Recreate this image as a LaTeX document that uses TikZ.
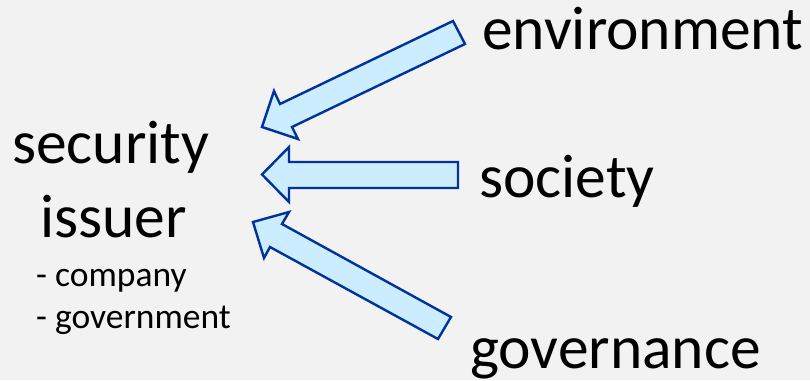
\documentclass[tikz,border=0pt]{standalone}
\usepackage{fontspec}
\setmainfont{Carlito}
\definecolor{bg}{HTML}{F2F2F2}
\definecolor{arrowfill}{HTML}{CCECFF}
\definecolor{arrowline}{HTML}{003399}
\begin{document}
\begin{tikzpicture}[x=1pt,y=-1pt,
  bigtext/.style={anchor=base west,inner sep=0pt,font=\fontsize{61.5}{74}\selectfont},
  smalltext/.style={anchor=base west,inner sep=0pt,font=\fontsize{35.5}{42}\selectfont},
  blockarrow/.style={draw=arrowline,fill=arrowfill,line width=2.4pt,line join=miter}]
\fill[bg] (0,0) rectangle (810,380);
\useasboundingbox (0,0) rectangle (810,380);
% arrows
\draw[blockarrow] (453,21) -- (465,44) -- (292,127) -- (298,139) -- (262,127) -- (274,91) -- (280,104) -- cycle;
\draw[blockarrow] (458,162) -- (458,188) -- (289,188) -- (289,202) -- (262,174.5) -- (289,147) -- (289,162) -- cycle;
\draw[blockarrow] (451,317) -- (438,339) -- (270,247) -- (264,258) -- (253,222) -- (289,212) -- (282,224) -- cycle;
% texts
\node[bigtext] (env) at (482,49.5) {environment};
\node[bigtext] (soc) at (479,197) {society};
\node[bigtext] (gov) at (470,368) {governance};
\node[bigtext] (sec) at (12,163.5) {security};
\node[bigtext] (iss) at (40,237.5) {issuer};
\node[smalltext] (comp) at (36,286.5) {- company};
\node[smalltext] (govt) at (36,328) {- government};
\end{tikzpicture}
\end{document}
